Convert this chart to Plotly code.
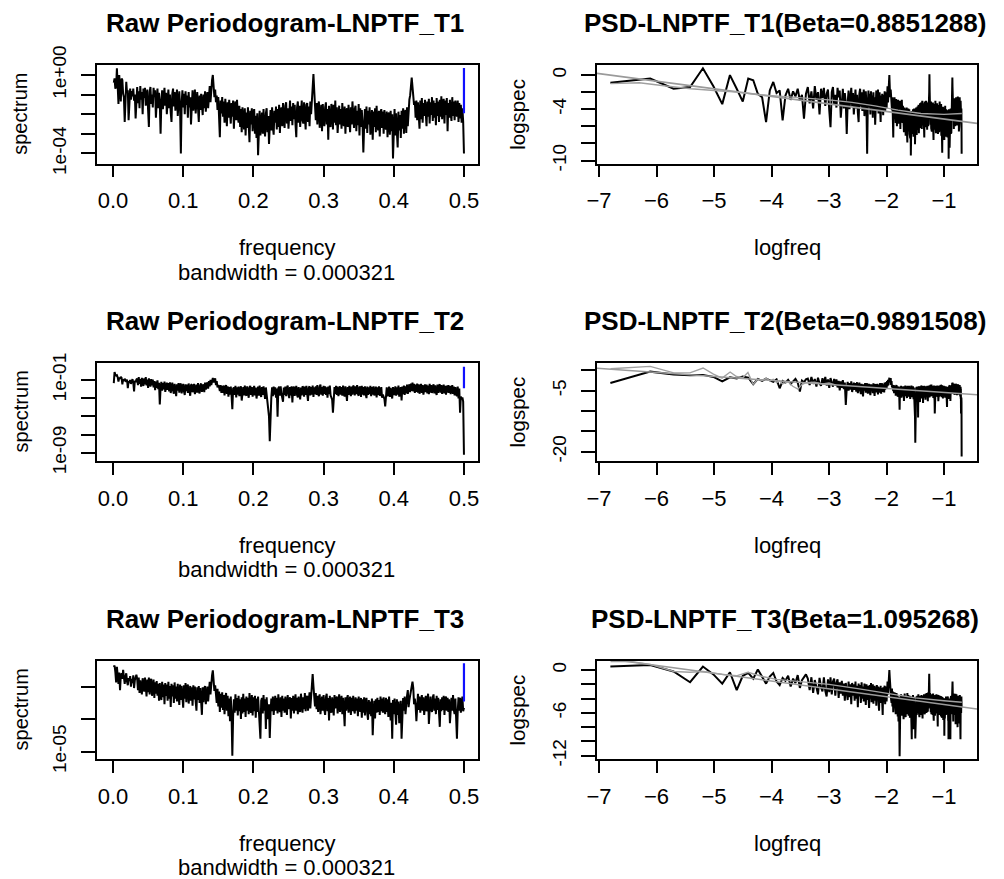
import numpy as np
import plotly.graph_objects as go

W, H = 996, 871          # page has an 8px body margin
OFF = 8
FONT = "Liberation Sans, Arial, sans-serif"

# periodogram of a series of 900 observations, Fourier frequencies k/900
n_obs = 900
bandwidth = "0.000321"
series_names = ["LNPTF_T1", "LNPTF_T2", "LNPTF_T3"]
betas = ["0.8851288", "0.9891508", "1.095268"]
fit_intercepts = [-6.03, -6.43, -5.92]
fit_slopes = [-0.8851288, -0.9891508, -1.095268]
ci_log10 = [(0.36, -1.95), (0.45, -1.90), (0.44, -1.92)]

# natural log of the raw spectrum, k = 1..450
logspec_t1 = [
    -0.9, -0.4, -1.6, -1.4, 0.8, -1.3, -3.4, 0.0, -1.6, -3.1,
    -0.4, -0.6, -2.2, -2.6, -5.5, -1.8, -0.8, -2.1, -1.8, -5.3,
    -2.4, -1.6, -2.9, -1.9, -2.5, -1.6, -3.0, -2.3, -5.1, -2.2,
    -1.4, -3.3, -1.9, -3.9, -1.3, -2.9, -2.0, -4.6, -1.6, -2.7,
    -1.5, -3.6, -2.2, -1.7, -4.1, -6.1, -2.0, -1.4, -3.4, -2.3,
    -3.8, -1.5, -2.6, -1.8, -5.0, -2.8, -1.6, -3.9, -2.1, -3.3,
    -6.9, -3.2, -1.8, -4.0, -2.4, -1.5, -3.6, -2.1, -4.6, -2.5,
    -1.7, -3.9, -2.3, -4.4, -5.5, -2.2, -1.6, -3.7, -2.0, -4.2,
    -2.7, -1.7, -4.8, -2.5, -1.9, -3.9, -9.2, -3.3, -1.8, -3.8,
    -2.2, -4.6, -1.9, -3.5, -2.4, -5.0, -2.0, -3.8, -2.6, -5.8,
    -2.7, -1.8, -4.2, -2.6, -1.7, -4.5, -2.9, -2.0, -3.9, -5.5,
    -2.4, -4.1, -2.2, -3.7, -4.7, -2.3, -3.9, -1.9, -4.3, -2.7,
    -2.0, -3.9, -1.7, -1.3, -3.2, -1.1, -0.6, 0.0, -1.5, -2.6,
    -1.7, -3.2, -2.4, -4.1, -2.6, -5.2, -7.3, -3.0, -4.5, -2.6,
    -4.9, -3.1, -5.6, -2.8, -4.3, -6.0, -3.2, -5.0, -2.9, -4.7,
    -5.7, -3.3, -4.9, -3.0, -6.3, -3.7, -3.1, -5.3, -2.9, -4.8,
    -5.6, -3.6, -6.1, -4.0, -6.7, -3.8, -5.5, -6.4, -3.9, -7.1,
    -4.4, -6.2, -3.8, -6.8, -7.9, -4.2, -5.8, -3.9, -6.6, -4.6,
    -4.0, -6.9, -4.8, -7.4, -4.5, -9.4, -6.5, -4.2, -7.1, -4.9,
    -4.4, -6.9, -4.0, -6.3, -7.2, -4.5, -3.9, -6.7, -4.8, -8.1,
    -4.6, -4.1, -6.5, -3.8, -6.1, -7.0, -4.2, -5.6, -3.7, -6.4,
    -4.0, -6.1, -3.5, -6.8, -4.2, -3.8, -6.0, -3.3, -5.3, -6.2,
    -3.6, -3.2, -5.7, -3.9, -6.3, -3.4, -3.0, -5.4, -3.7, -5.9,
    -3.3, -5.2, -3.5, -5.8, -7.3, -3.8, -3.1, -5.6, -3.6, -6.1,
    -3.4, -3.0, -5.3, -5.7, -3.2, -5.1, -6.4, -3.5, -3.3, -5.5,
    -3.7, -6.0, -3.1, -4.6, -2.8, -2.0, 0.1, -1.8, -3.0, -5.3,
    -3.3, -5.8, -3.7, -3.1, -6.2, -3.9, -3.5, -6.6, -3.4, -5.4,
    -6.0, -3.8, -3.2, -5.8, -4.0, -7.6, -3.6, -5.7, -6.1, -3.4,
    -3.9, -6.4, -3.5, -5.6, -3.0, -5.9, -3.8, -6.8, -4.1, -3.6,
    -5.8, -4.0, -6.3, -3.3, -5.6, -6.0, -3.7, -6.9, -4.3, -3.9,
    -6.1, -3.5, -5.4, -6.7, -3.8, -5.8, -3.1, -5.7, -6.2, -4.0,
    -3.6, -6.6, -4.2, -5.9, -3.4, -7.1, -3.9, -6.1, -4.1, -5.8,
    -9.1, -6.0, -4.0, -6.3, -3.7, -6.8, -4.2, -5.8, -3.8, -7.0,
    -4.5, -4.1, -7.6, -4.3, -6.1, -3.9, -6.7, -3.6, -5.8, -6.5,
    -4.2, -7.2, -4.5, -4.0, -6.2, -4.3, -6.9, -4.1, -6.0, -6.4,
    -4.3, -7.3, -4.7, -4.4, -7.0, -4.2, -6.6, -4.6, -9.8, -6.4,
    -4.0, -7.1, -4.5, -6.7, -8.5, -4.3, -6.5, -4.7, -7.4, -4.2,
    -6.3, -3.9, -6.9, -4.5, -4.1, -6.8, -3.8, -6.0, -3.3, -2.9,
    -2.4, -1.6, -0.3, -1.4, -2.2, -3.5, -3.1, -5.0, -3.0, -5.3,
    -3.2, -4.9, -6.3, -3.0, -5.2, -2.7, -5.6, -3.3, -4.8, -2.9,
    -5.3, -6.0, -3.1, -4.9, -2.8, -5.7, -3.2, -4.7, -2.6, -5.4,
    -3.0, -5.0, -3.3, -5.9, -2.7, -4.8, -3.1, -5.5, -2.9, -4.9,
    -2.5, -5.2, -3.2, -2.8, -5.7, -3.0, -4.7, -2.7, -6.6, -3.3,
    -5.0, -2.9, -4.5, -5.4, -2.6, -4.8, -3.1, -5.3, -3.0, -4.7,
    -4.9, -3.0, -5.5, -3.3, -5.1, -3.5, -5.6, -3.9, -5.5, -9.2,
]

logspec_t2 = [
    -3.1, -0.3, -1.0, -1.2, -1.1, -1.6, -2.7, -1.7, -2.0, -1.5,
    -1.8, -3.4, -2.1, -2.6, -2.0, -2.4, -2.8, -2.2, -4.4, -2.6,
    -3.0, -2.3, -3.3, -2.7, -2.1, -3.0, -5.2, -2.5, -2.9, -2.2,
    -2.0, -3.6, -1.6, -3.3, -2.1, -4.0, -1.8, -3.2, -3.8, -1.9,
    -3.4, -1.6, -3.7, -2.2, -4.3, -1.9, -3.3, -4.0, -2.1, -3.7,
    -2.2, -4.2, -2.6, -4.9, -2.7, -4.3, -2.4, -4.6, -3.0, -8.5,
    -4.4, -2.8, -5.0, -3.1, -4.7, -2.7, -5.3, -3.3, -3.0, -4.8,
    -3.1, -5.2, -2.9, -5.6, -3.4, -3.0, -4.9, -5.8, -3.3, -5.2,
    -6.4, -3.4, -5.0, -3.1, -5.5, -3.5, -3.2, -5.7, -3.7, -3.3,
    -5.2, -6.1, -3.4, -5.1, -3.5, -5.6, -3.2, -5.0, -6.3, -3.6,
    -3.4, -5.4, -3.7, -3.3, -5.9, -3.9, -3.5, -5.5, -3.1, -5.0,
    -5.7, -3.6, -3.2, -5.3, -3.7, -3.4, -5.4, -3.0, -4.7, -3.1,
    -2.9, -4.5, -2.6, -3.9, -2.3, -3.6, -2.0, -1.8, -2.9, -2.1,
    -1.9, -3.6, -2.6, -4.2, -3.6, -4.1, -5.1, -3.6, -5.6, -3.8,
    -5.6, -3.7, -6.2, -4.0, -3.6, -5.8, -3.9, -6.5, -4.1, -6.0,
    -4.0, -6.3, -9.7, -4.5, -4.2, -6.1, -3.8, -6.7, -4.2, -6.0,
    -4.0, -6.4, -4.3, -3.9, -7.5, -4.4, -4.1, -6.2, -3.7, -5.8,
    -6.3, -3.9, -6.0, -6.8, -4.2, -3.8, -6.1, -4.1, -6.5, -4.3,
    -3.8, -6.2, -4.2, -7.0, -4.4, -4.0, -6.3, -3.7, -5.8, -6.6,
    -4.1, -6.1, -3.9, -5.9, -7.1, -4.2, -6.2, -7.4, -8.6, -11.5,
    -17.8, -9.4, -6.7, -4.2, -6.4, -4.0, -6.0, -4.2, -6.8, -4.5,
    -11.6, -4.4, -4.0, -6.3, -3.9, -5.8, -6.5, -7.8, -4.2, -6.1,
    -4.0, -6.4, -4.3, -3.7, -6.0, -6.9, -4.1, -6.2, -3.9, -8.0,
    -4.4, -4.0, -6.3, -4.2, -3.8, -6.1, -6.7, -4.1, -6.0, -7.2,
    -4.2, -6.2, -3.9, -4.3, -6.5, -4.0, -6.1, -3.8, -5.9, -7.6,
    -4.3, -3.9, -6.2, -4.1, -6.0, -3.7, -6.6, -4.2, -5.9, -3.9,
    -6.1, -3.6, -5.8, -6.4, -4.0, -3.5, -6.0, -4.1, -6.3, -3.8,
    -5.8, -3.9, -6.1, -4.2, -6.8, -4.0, -5.9, -3.7, -6.2, -6.6,
    -7.3, -10.6, -6.0, -4.1, -5.8, -3.8, -6.1, -4.0, -6.4, -4.2,
    -3.9, -6.0, -4.1, -6.3, -3.7, -5.8, -6.5, -3.9, -5.9, -7.6,
    -4.1, -6.1, -3.8, -5.8, -6.4, -4.0, -6.0, -3.7, -4.2, -6.2,
    -3.9, -5.9, -3.6, -5.8, -6.3, -4.0, -4.2, -6.6, -3.8, -6.0,
    -4.1, -6.2, -3.9, -5.8, -6.9, -4.0, -6.1, -4.2, -5.9, -3.8,
    -6.4, -4.1, -6.0, -3.9, -6.2, -5.8, -4.0, -6.7, -4.2, -6.1,
    -3.9, -6.3, -5.9, -4.1, -6.8, -6.0, -6.5, -7.1, -9.0, -6.2,
    -4.2, -6.4, -5.9, -4.0, -6.6, -4.3, -6.2, -7.0, -4.1, -6.1,
    -5.8, -3.9, -6.3, -4.2, -6.0, -3.7, -6.5, -4.3, -4.1, -7.5,
    -4.0, -5.9, -3.7, -6.1, -3.9, -5.7, -3.5, -5.8, -3.8, -3.4,
    -5.4, -3.2, -5.1, -3.0, -5.2, -3.3, -5.6, -3.5, -5.3, -3.2,
    -5.5, -3.4, -5.8, -3.7, -3.3, -5.6, -3.6, -6.0, -3.8, -3.4,
    -5.4, -3.5, -5.7, -3.7, -5.9, -3.3, -5.5, -3.6, -5.6, -3.8,
    -3.4, -5.7, -3.7, -5.4, -6.1, -3.5, -5.6, -3.8, -3.4, -5.5,
    -3.6, -5.8, -3.9, -3.5, -5.7, -3.8, -6.0, -3.7, -5.5, -3.6,
    -5.6, -3.8, -5.9, -3.9, -3.6, -5.8, -4.0, -6.2, -4.1, -6.0,
    -6.4, -4.0, -7.0, -4.5, -10.6, -6.5, -7.2, -6.7, -7.8, -21.2,
]

logspec_t3 = [
    0.5, 0.7, -0.2, -1.7, 0.5, -0.6, -1.9, -0.3, -2.8, -0.8,
    -0.4, -1.2, 0.1, -1.0, -1.9, -0.9, -0.4, -1.6, -2.1, -1.1,
    -1.5, -0.8, -2.3, -1.2, -1.8, -0.7, -2.5, -1.4, -1.0, -0.6,
    -1.2, -2.8, -1.0, -3.2, -1.4, -2.6, -3.4, -1.1, -2.4, -3.0,
    -1.0, -2.9, -3.7, -1.3, -3.1, -1.0, -3.4, -1.6, -1.2, -3.6,
    -1.8, -1.3, -3.9, -1.7, -3.3, -1.5, -3.6, -1.9, -4.3, -1.8,
    -3.5, -4.2, -1.6, -3.8, -2.0, -4.8, -1.8, -3.6, -2.0, -4.3,
    -1.6, -4.0, -2.2, -5.2, -1.9, -3.7, -2.1, -4.6, -1.7, -4.0,
    -2.3, -4.4, -1.9, -3.9, -4.9, -2.0, -4.2, -2.2, -3.7, -5.3,
    -2.1, -4.0, -1.8, -4.5, -2.4, -2.0, -4.7, -2.5, -2.2, -4.3,
    -2.4, -5.0, -2.1, -4.1, -2.3, -4.4, -5.7, -2.4, -4.2, -2.2,
    -4.6, -2.5, -4.3, -6.3, -2.4, -4.5, -2.6, -2.2, -4.8, -2.8,
    -2.3, -4.4, -2.0, -1.6, -3.4, -1.3, -0.7, 0.0, -1.1, -2.9,
    -2.1, -4.1, -4.6, -2.6, -5.1, -3.0, -5.9, -3.3, -5.3, -3.1,
    -5.6, -3.5, -6.2, -3.8, -3.2, -5.7, -3.6, -6.5, -4.0, -7.2,
    -3.7, -6.3, -12.1, -6.6, -4.1, -6.0, -3.4, -5.7, -3.9, -6.4,
    -3.6, -5.8, -4.1, -6.9, -3.8, -6.1, -3.3, -5.9, -4.0, -6.6,
    -3.7, -5.7, -3.9, -6.2, -3.2, -5.5, -6.0, -3.5, -6.4, -3.8,
    -5.8, -3.6, -6.7, -4.0, -5.9, -3.7, -6.5, -7.3, -9.7, -4.3,
    -3.9, -6.1, -3.5, -5.7, -4.1, -8.3, -3.8, -5.9, -6.9, -4.8,
    -9.6, -6.0, -4.0, -5.8, -3.7, -6.3, -4.2, -3.6, -5.7, -3.9,
    -6.1, -3.4, -5.5, -5.9, -3.8, -6.6, -3.6, -5.7, -4.0, -6.0,
    -3.7, -5.6, -6.3, -3.5, -5.5, -4.4, -3.8, -6.8, -3.9, -5.7,
    -3.6, -6.1, -4.0, -3.4, -5.7, -3.9, -6.2, -3.7, -5.6, -5.9,
    -3.3, -5.4, -6.0, -3.8, -5.5, -3.2, -5.8, -3.9, -3.6, -5.7,
    -3.8, -3.1, -5.4, -3.0, -2.4, -0.5, -2.2, -4.4, -5.1, -3.2,
    -5.5, -3.6, -5.9, -3.9, -3.4, -6.2, -4.0, -3.7, -5.7, -3.5,
    -5.6, -6.3, -3.8, -3.3, -5.8, -3.9, -7.1, -3.6, -5.5, -6.0,
    -3.8, -5.6, -6.4, -3.5, -5.4, -4.3, -3.7, -6.1, -3.9, -3.4,
    -5.9, -4.1, -3.6, -6.2, -3.9, -5.6, -7.9, -3.8, -5.7, -4.0,
    -3.5, -6.0, -4.1, -3.7, -6.3, -3.9, -5.8, -3.6, -5.6, -6.1,
    -3.8, -5.7, -4.0, -6.5, -3.7, -5.6, -5.9, -3.9, -6.7, -4.1,
    -6.0, -3.8, -6.4, -4.3, -3.9, -6.1, -7.0, -4.2, -6.2, -4.4,
    -6.5, -4.0, -9.2, -6.1, -4.3, -6.8, -4.1, -6.0, -3.9, -5.9,
    -4.2, -6.3, -3.7, -5.8, -4.0, -6.0, -3.8, -5.7, -6.2, -3.9,
    -5.9, -4.1, -6.6, -3.7, -5.7, -7.1, -4.6, -9.7, -4.2, -6.2,
    -4.0, -5.9, -7.7, -4.1, -6.3, -4.4, -7.5, -6.1, -4.3, -9.7,
    -6.0, -3.9, -5.7, -3.7, -6.2, -4.1, -3.6, -2.8, -5.2, -4.2,
    -3.5, -2.9, -2.0, -1.6, -2.5, -4.8, -4.0, -5.0, -7.2, -3.9,
    -3.3, -5.6, -3.7, -6.0, -4.0, -3.5, -5.7, -3.8, -6.3, -4.1,
    -3.6, -5.8, -3.9, -3.3, -7.6, -6.1, -3.7, -5.5, -5.9, -3.8,
    -3.4, -5.7, -4.0, -6.2, -3.6, -5.6, -3.9, -6.0, -8.0, -4.1,
    -5.8, -3.8, -5.6, -3.6, -6.3, -4.0, -3.7, -5.7, -3.9, -5.9,
    -4.1, -7.5, -6.0, -3.9, -5.7, -3.5, -5.6, -6.2, -4.0, -7.1,
    -9.7, -5.8, -3.8, -5.7, -3.9, -6.0, -4.1, -3.7, -5.8, -5.3,
]

# grey curves drawn over the log-log plots (logfreq, logspec)
grey_x_t1 = [-6.80, -6.30, -5.80, -5.40, -5.00, -4.60, -4.20, -3.80, -3.40, -3.00, -2.60, -2.20, -1.80, -1.40, -1.00, -0.69]
grey_y_t1 = [-1.0, -0.9, -1.3, -1.6, -1.8, -2.0, -2.3, -2.5, -2.7, -2.9, -3.2, -3.6, -4.1, -4.5, -4.6, -4.5]
grey_x_t2 = [-6.80, -6.11, -5.70, -5.42, -5.19, -5.01, -4.86, -4.72, -4.61, -4.50, -4.41, -4.32, -4.24, -4.16, -4.09,
             -4.03, -3.97, -3.91, -3.86, -3.81, -3.71, -3.63, -3.54, -3.47, -3.40, -3.25, -3.11, -3.00, -2.89]
grey_y_t2 = [0.4, 1.0, -0.6, -0.6, 0.6, -0.9, -1.9, -0.4, -1.5, -1.8, -0.5, -3.4, -2.2, -2.5, -1.9,
             -2.6, -2.2, -3.0, -2.5, -3.3, -2.8, -3.9, -4.6, -3.5, -3.0, -2.9, -3.3, -3.1, -3.6]
grey_x_t3 = [-6.80, -6.46, -6.11, -5.70, -5.42, -5.19, -4.86, -4.61, -4.41, -4.16, -3.91, -3.50, -3.00, -2.50, -2.00, -1.50, -1.00, -0.69]
grey_y_t3 = [1.2, 1.2, 0.8, -0.2, -0.3, -0.2, -0.6, -0.8, -0.3, -0.9, -1.3, -1.6, -2.0, -2.6, -3.3, -3.9, -4.3, -4.5]

logspecs = [logspec_t1, logspec_t2, logspec_t3]
greys = [(grey_x_t1, grey_y_t1), (grey_x_t2, grey_y_t2), (grey_x_t3, grey_y_t3)]

raw_yticks = [[1, 1e-1, 1e-2, 1e-3, 1e-4], [1e-1, 1e-3, 1e-5, 1e-7, 1e-9], [1e-1, 1e-3, 1e-5]]
raw_yticktext = [["1e+00", "", "", "", "1e-04"], ["1e-01", "", "", "", "1e-09"], ["", "", "1e-05"]]
psd_yticks = [[0, -2, -4, -6, -8, -10], [0, -5, -10, -15, -20], [0, -2, -4, -6, -8, -10, -12]]
psd_yticktext = [["0", "", "-4", "", "", "-10"], ["", "-5", "", "", "-20"], ["0", "", "", "-6", "", "", "-12"]]

# layout (page pixels)
raw_yrange = [[-4.51, 0.51], [-9.91, 0.89], [-5.47, 0.60]]
psd_yrange = [[-10.35, 1.18], [-22.35, 1.9], [-12.5, 1.32]]
raw_xrange = [-0.0228, 0.52]
psd_xrange = [-7.035, -0.426]
row_top = [65, 362.7, 660.7]
box_h = 98.5
raw_x0, raw_x1 = 97, 478
psd_x0, psd_x1 = 597, 977

freq = np.arange(1, n_obs // 2 + 1) / n_obs
logfreq = np.log(freq)
for s in logspecs:
    assert len(s) == n_obs // 2


def px(x):
    return (x - OFF) / W


def py(y):
    return 1 - (y - OFF) / H


def axis_style(is_y):
    return dict(
        showline=True, linecolor="black", linewidth=1.8, mirror=True, automargin=False,
        ticks="outside", ticklen=14 if is_y else 12, tickwidth=1.8, tickcolor="black",
        showgrid=False, zeroline=False, ticklabelstandoff=8 if is_y else 4,
        tickfont=dict(family=FONT, size=19 if is_y else 22, color="black"),
    )


fig = go.Figure()
layout = {}
annotations = []


def text(t, x, y, size=22, bold=False, angle=0):
    annotations.append(dict(
        text=f"<b>{t}</b>" if bold else t, x=px(x), y=py(y), xref="paper", yref="paper",
        showarrow=False, textangle=angle, xanchor="center", yanchor="middle",
        font=dict(family=FONT, size=size, color="black"),
    ))


for i in range(3):
    top = row_top[i]
    ydom = [py(top + box_h), py(top)]
    spec = np.exp(np.array(logspecs[i]))
    ls = np.array(logspecs[i])
    ra, pa = 2 * i + 1, 2 * i + 2
    rx, ry = f"x{ra}", f"y{ra}"
    qx, qy = f"x{pa}", f"y{pa}"

    # raw periodogram
    fig.add_trace(go.Scatter(x=freq, y=spec, mode="lines", line=dict(color="black", width=2),
                             xaxis=rx, yaxis=ry, showlegend=False, hoverinfo="skip"))
    hi, lo = ci_log10[i]
    fig.add_trace(go.Scatter(x=[0.5, 0.5], y=[10 ** hi, 10 ** lo], mode="lines",
                             line=dict(color="#1010ff", width=2.2), xaxis=rx, yaxis=ry,
                             showlegend=False, hoverinfo="skip"))
    layout[f"xaxis{ra}"] = dict(axis_style(False), domain=[px(raw_x0), px(raw_x1)], range=raw_xrange,
                                tickvals=[0, 0.1, 0.2, 0.3, 0.4, 0.5],
                                ticktext=["0.0", "0.1", "0.2", "0.3", "0.4", "0.5"], anchor=ry)
    layout[f"yaxis{ra}"] = dict(axis_style(True), domain=ydom, type="log", range=raw_yrange[i],
                                tickvals=raw_yticks[i], ticktext=raw_yticktext[i], tickangle=-90, anchor=rx)

    # log-log spectrum with fitted slope
    fig.add_trace(go.Scatter(x=logfreq, y=ls, mode="lines", line=dict(color="black", width=2),
                             xaxis=qx, yaxis=qy, showlegend=False, hoverinfo="skip"))
    fit_x = np.array(psd_xrange)
    fig.add_trace(go.Scatter(x=fit_x, y=fit_intercepts[i] + fit_slopes[i] * fit_x, mode="lines",
                             line=dict(color="#9a9a9a", width=1.6), xaxis=qx, yaxis=qy,
                             showlegend=False, hoverinfo="skip"))
    gx, gy = greys[i]
    fig.add_trace(go.Scatter(x=gx, y=gy, mode="lines", line=dict(color="#a0a0a0", width=1.4),
                             xaxis=qx, yaxis=qy, showlegend=False, hoverinfo="skip"))
    layout[f"xaxis{pa}"] = dict(axis_style(False), domain=[px(psd_x0), px(psd_x1)], range=psd_xrange,
                                tickvals=[-7, -6, -5, -4, -3, -2, -1], anchor=qy)
    layout[f"yaxis{pa}"] = dict(axis_style(True), domain=ydom, range=psd_yrange[i],
                                tickvals=psd_yticks[i], ticktext=psd_yticktext[i], tickangle=-90, anchor=qx)

    cy = top + box_h / 2
    text(f"Raw Periodogram-{series_names[i]}", 285, top - 42, size=26, bold=True)
    text(f"PSD-{series_names[i]}(Beta={betas[i]})", 785, top - 42, size=26, bold=True)
    text("frequency", 287, top + 183)
    text(f"bandwidth = {bandwidth}", 286, top + 207)
    text("logfreq", 787, top + 183)
    text("spectrum", 20.5, cy, size=20, angle=-90)
    text("logspec", 517.5, cy, size=20.5, angle=-90)

fig.update_layout(
    width=W, height=H, margin=dict(l=0, r=0, t=0, b=0),
    paper_bgcolor="white", plot_bgcolor="white",
    annotations=annotations, **layout,
)

fig.write_html("out.html")
